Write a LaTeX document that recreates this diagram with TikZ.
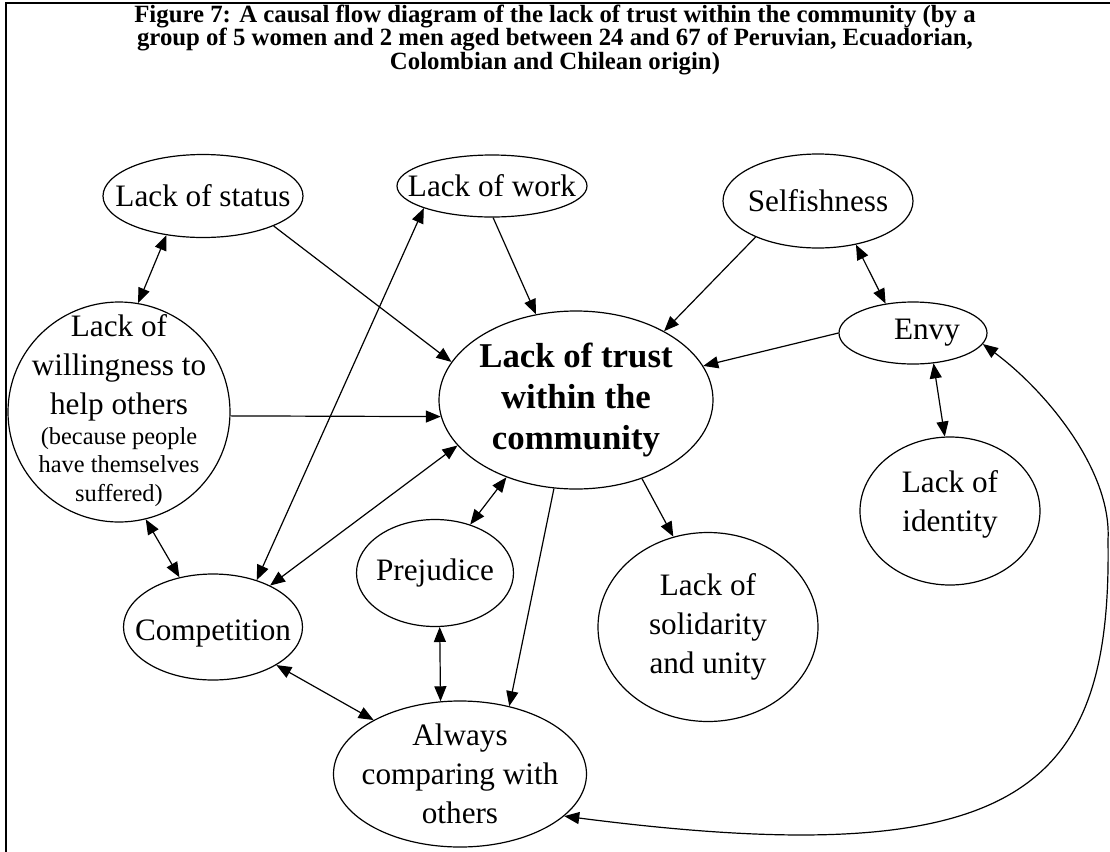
\documentclass[tikz,border=0pt]{standalone}
\usepackage{fontspec}
\setmainfont{Liberation Serif}
\usetikzlibrary{shapes.geometric,arrows.meta}

% an outlined ellipse (name, position, width, height) with its text centred on it
\newcommand\bubble[6][]{%
  \node[bub,minimum width=#4,minimum height=#5] (#2) at (#3) {};
  \node[txt,#1] (#2-t) at (#2) {#6};}

\begin{document}
\begin{tikzpicture}[x=0.5pt,y=-0.5pt,
  bub/.style={ellipse,draw,line width=0.6pt,inner sep=0pt},
  txt/.style={align=center,inner sep=0pt,font=\fontsize{15.6}{19.5}\selectfont},
  small/.style={font=\fontsize{12.2}{14.3}\selectfont},
  headline/.style={align=center,inner sep=0pt,font=\fontsize{12.4}{11.9}\selectfont\bfseries},
  arr/.style={line width=0.6pt,-{Triangle[length=7.5pt,width=6pt]}},
  darr/.style={line width=0.6pt,{Triangle[length=7.5pt,width=6pt]}-{Triangle[length=7.5pt,width=6pt]}}]

\useasboundingbox (0,0) rectangle (1110,852);
\fill[white] (0,0) rectangle (1110,852);

% frame
\draw[line width=1.3pt] (6,852) -- (6,3) -- (1112,3);

% caption
\node[headline] (title) at (555,40)
  {Figure 7: A causal flow diagram of the lack of trust within the community (by a\\
   group of 5 women and 2 men aged between 24 and 67 of Peruvian, Ecuadorian,\\
   Colombian and Chilean origin)};

% factors
\bubble{status}{203,196}{100pt}{41.5pt}{Lack of status}
\bubble{work}{492,186}{95pt}{31pt}{Lack of work}
\bubble{self}{818,201}{95pt}{47pt}{Selfishness}
\bubble{envy}{913,333}{74pt}{31pt}{\hspace*{14pt}Envy}
\node[bub,minimum width=111pt,minimum height=110pt] (will) at (119,412) {};
\node[txt] (will-t) at (119,368) {Lack of\\willingness to\\help others};
\node[txt,small] (will-s) at (119,467) {(because people\\have themselves\\suffered)};
\bubble[font=\fontsize{17.4}{20.5}\selectfont\bfseries]{main}{576,400}{137pt}{89pt}{Lack of trust\\within the\\community}
\node[bub,minimum width=90pt,minimum height=74pt] (ident) at (950,511) {};
\node[txt] (ident-t) at (950,504) {Lack of\\identity};
\bubble{solid}{708,627}{110pt}{94.5pt}{Lack of\\solidarity\\and unity}
\bubble{prej}{435,573}{78.5pt}{53.5pt}{Prejudice}
\node[bub,minimum width=89.5pt,minimum height=53pt] (comp) at (213,627) {};
\node[txt] (comp-t) at (213,633) {Competition};
\bubble{alw}{460,774}{126.5pt}{73pt}{Always\\comparing with\\others}

% causal links
\draw[darr] (status.227.7) -- (will.80.9);
\draw[arr]  (status.-23.9) -- (main.163.9);
\draw[arr]  (will.-2.6) -- (main.187.1);
\draw[darr] (comp.47.8) -- (work.198.4);
\draw[darr] (comp.36.3) -- (main.201.3);
\draw[darr] (will.-76) -- (comp.124.9);
\draw[arr]  (work.-88) -- (main.115.5);
\draw[arr]  (self.210.4) -- (main.38);
\draw[darr] (self.-49.4) -- (envy.133.2);
\draw[arr]  (envy.180) -- (main.15.8);
\draw[darr] (envy.-56.3) -- (ident.94.6);
\draw[arr]  (main.-50.9) -- (solid.111.8);
\draw[darr] (main.228) -- (prej.54.6);
\draw[arr]  (main.256.9) -- (alw.54.4);
\draw[darr] (prej.-85) -- (alw.105.1);
\draw[darr] (comp.-31) -- (alw.148.1);

% long loop round the right-hand side
\coordinate (bend) at (1108,540);
\draw[darr] (alw.-22) .. controls (1020,875) and (1112,790) .. (bend)
            .. controls (1112,470) and (1045,390) .. (envy.-9);
\end{tikzpicture}
\end{document}
